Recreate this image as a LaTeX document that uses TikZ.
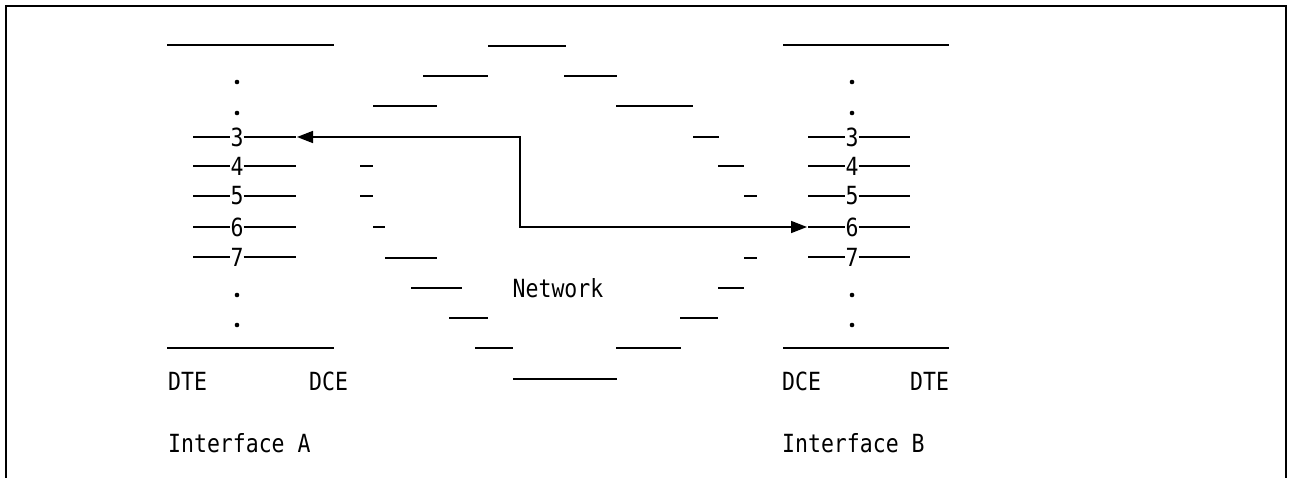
\documentclass[tikz,border=0pt]{standalone}
\usepackage{fontspec}
\newfontfamily\monofont[FakeStretch=0.86]{DejaVu Sans Mono}
\usetikzlibrary{arrows.meta}
\begin{document}
\begin{tikzpicture}[x=1pt,y=-1pt,
  ln/.style={line width=1.4pt},
  lbl/.style={font=\monofont\fontsize{25}{25}\selectfont, inner sep=0pt, anchor=west},
  dig/.style={font=\monofont\fontsize{25}{25}\selectfont, inner sep=0pt},
  dotmark/.style={circle, fill, inner sep=0pt, minimum size=4.6pt},
  sig/.style={line width=1.6pt, {Triangle[length=16pt,width=12pt]}-{Triangle[length=16pt,width=12pt]}}]
\useasboundingbox (0,0) rectangle (1289,478);
% frame
\draw[line width=1.6pt] (6,478) -- (6,6) -- (1286,6) -- (1286,478);

% interface bars
\draw[ln] (167,45) -- (334,45);
\draw[ln] (783,45) -- (949,45);
\draw[ln] (167,348) -- (334,348);
\draw[ln] (783,348) -- (949,348);

% dots
\foreach \y [count=\i] in {82,113,295,325} {
  \node[dotmark] (ld\i) at (237,\y) {};
  \node[dotmark] (rd\i) at (852,\y) {};
}

% signal rows
\foreach \r/\y in {3/137,4/166,5/196,6/227,7/257} {
  \node[dig] (a\r) at (237,\y) {\r};
  \coordinate (al\r) at (193,\y);
  \coordinate (ar\r) at (296,\y);
  \draw[ln] (al\r) -- (a\r.west);
  \draw[ln] (a\r.east) -- (ar\r);
  \node[dig] (b\r) at (852,\y) {\r};
  \coordinate (bl\r) at (808,\y);
  \coordinate (br\r) at (910,\y);
  \draw[ln] (bl\r) -- (b\r.west);
  \draw[ln] (b\r.east) -- (br\r);
}

% network cloud
\foreach \xa/\xb/\y in {488/566/46, 423/488/76, 564/617/76, 373/437/106, 616/693/106,
  693/719/137, 360/373/166, 718/744/166, 360/373/196, 744/757/196, 373/385/227,
  385/437/258, 744/757/258, 411/462/288, 718/744/288, 449/488/318, 680/718/318,
  475/513/348, 616/681/348, 513/617/379} {
  \draw[ln] (\xa,\y) -- (\xb,\y);
}
\node[dig] (net) at (558,288) {Network};

% connection through the network
\coordinate (tipL) at (297,137);
\coordinate (c1) at (520,137);
\coordinate (c2) at (520,227);
\coordinate (tipR) at (807,227);
\draw[sig] (tipL) -- (c1) -- (c2) -- (tipR);

% labels
\node[lbl] (dteA) at (168,381) {DTE};
\node[lbl] (dceA) at (309,381) {DCE};
\node[lbl] (dceB) at (782,381) {DCE};
\node[lbl] (dteB) at (910,381) {DTE};
\node[lbl] (ifA) at (168,443) {Interface A};
\node[lbl] (ifB) at (782,443) {Interface B};
\end{tikzpicture}
\end{document}
